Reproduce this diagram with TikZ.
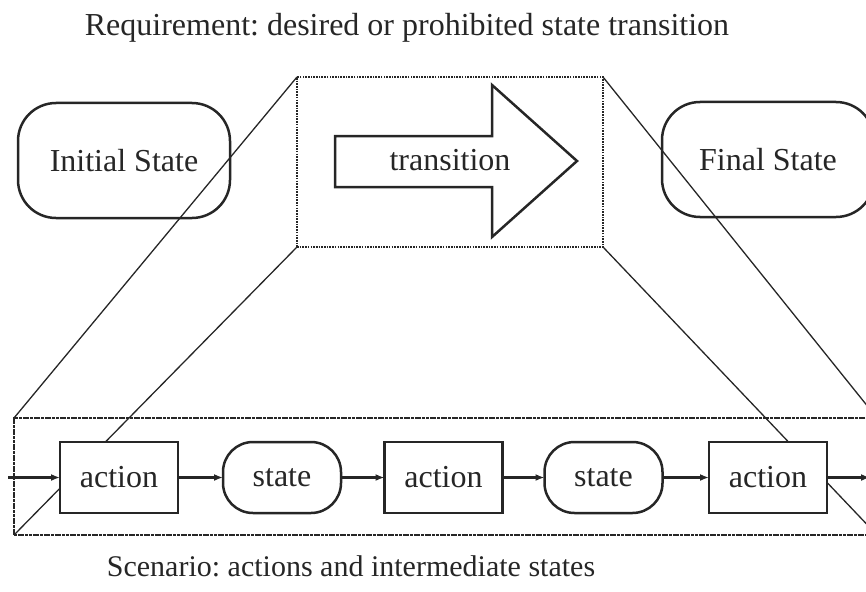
\documentclass[tikz,border=0pt]{standalone}
\usepackage{fontspec}
\setmainfont{Liberation Serif}
\usetikzlibrary{arrows.meta}
\frenchspacing
\begin{document}
\begin{tikzpicture}[x=1pt,y=-1pt,
  ink/.style={draw=black!85},
  every node/.style={text=black!85, font=\fontsize{32}{38}\selectfont, outer sep=0pt},
  actbox/.style={ink, line width=2.5pt, fill=white, minimum width=118pt, minimum height=71pt, inner sep=0pt},
  statebox/.style={ink, line width=2.5pt, fill=white, rounded corners=30pt, minimum width=118pt, minimum height=71pt, inner sep=0pt},
  bigstate/.style={ink, line width=2.5pt, rounded corners=38pt, minimum width=212pt, minimum height=115pt, inner sep=0pt},
  reqframe/.style={ink, line width=1.6pt, dash pattern=on 1.6pt off 1.1pt, minimum width=306pt, minimum height=170pt, inner sep=0pt},
  scenframe/.style={ink, line width=2pt, dash pattern=on 3pt off 0.7pt, minimum width=863pt, minimum height=117pt, inner sep=0pt},
  zoomline/.style={ink, line width=1.3pt},
  flow/.style={ink, line width=2.2pt, -{Latex[length=9pt,width=7pt]}},
  caption/.style={anchor=base},
]
\useasboundingbox (0,0) rectangle (866,591);

% requirement (top) and scenario (bottom) frames
\node[reqframe] (req) at (450,162) {};
\node[scenframe] (scen) at (445.5,476.5) {};

% perspective lines joining the two frames
\draw[zoomline] (req.north west) -- (scen.north west);
\draw[zoomline] (req.south west) -- (scen.south west);
\draw[zoomline] (req.north east) -- (scen.north east);
\draw[zoomline] (req.south east) -- (scen.south east);

% initial and final states of the requirement
\node[bigstate] (init) at (124,160.5) {Initial State};
\node[bigstate] (final) at (768,159.5) {Final State};

% the transition arrow
\draw[ink, line width=2.5pt, line join=miter]
  (335,136) -- (492,136) -- (492,85) -- (577,161) -- (492,237) -- (492,187) -- (335,187) -- cycle;
\node (trans) at (450,160) {transition};

% scenario chain
\node[actbox]   (a1) at (119,477.5)   {action};
\node[statebox] (s1) at (282,477.5)   {state};
\node[actbox]   (a2) at (443.5,477.5) {action};
\node[statebox] (s2) at (603.5,477.5) {state};
\node[actbox]   (a3) at (768,477.5)   {action};

\coordinate (in)  at (8,477.5);
\coordinate (out) at (870,477.5);

\draw[flow] (in) -- (a1.west);
\draw[flow] (a1.east) -- (s1.west);
\draw[flow] (s1.east) -- (a2.west);
\draw[flow] (a2.east) -- (s2.west);
\draw[flow] (s2.east) -- (a3.west);
\draw[flow] (a3.east) -- (out);

% captions
\node[caption] (reqtext) at (407,36) {Requirement: desired or prohibited state transition};
\node[caption, font=\fontsize{30}{36}\selectfont] (scentext) at (351,576) {Scenario: actions and intermediate states};
\end{tikzpicture}
\end{document}
